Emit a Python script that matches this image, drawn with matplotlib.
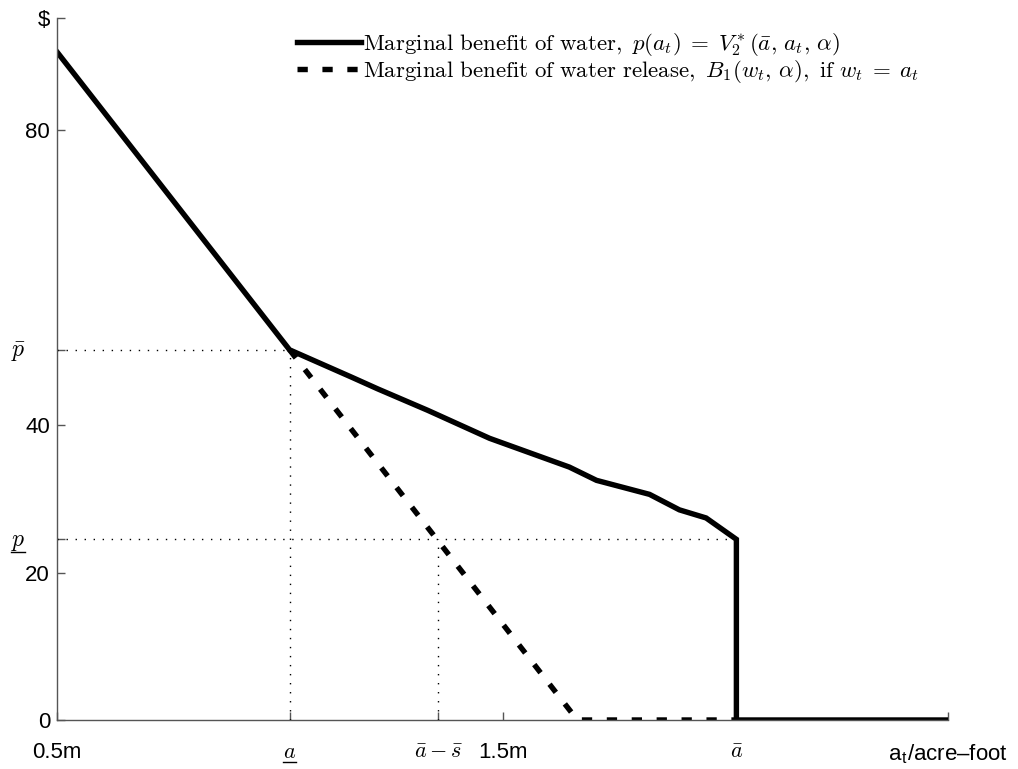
import matplotlib
matplotlib.use("Agg")
import matplotlib.pyplot as plt
from matplotlib.lines import Line2D

plt.rcParams['mathtext.fontset'] = 'cm'
plt.rcParams['font.family'] = ['Liberation Sans', 'DejaVu Sans']

# Data (x in millions of acre-feet, y in $)
benefit_x = [0.5, 1.022, 1.161, 1.220, 1.332, 1.471, 1.650, 1.711, 1.830, 1.897, 1.957, 2.025, 2.025, 2.5]
benefit_y = [90.6, 50.2, 46.5, 44.9, 42.0, 38.2, 34.3, 32.5, 30.6, 28.5, 27.4, 24.5, 0, 0]
release_x = [1.022, 1.668, 2.025]
release_y = [50.2, 0, 0]

a_low = 1.022
a_bar = 2.025
a_minus_s = 1.356
p_bar = 50.2
p_low = 24.5
y_top = 95.2

xticks = [0.5, a_low, a_minus_s, 1.5, a_bar, 2.5]
xtick_labels = ['0.5m', r'$a$', r'$\bar{a}-\bar{s}$', '1.5m', r'$\bar{a}$',
                'a$_\\mathregular{t}$/acre\u2013foot']
yticks = [0, 20, p_low, 40, p_bar, 80, y_top]
ytick_labels = ['0', '20', '', '40', '', '80', '$']
price_levels = [p_low, p_bar]
price_labels = [r'$p$', r'$\bar{p}$']
price_underlined = [True, False]

fig = plt.figure(figsize=(10.18, 7.69), dpi=100)
ax = fig.add_axes([57/1018, 1-720/769, (948-57)/1018, (720-18)/769])

dot = (0, (1, 5.5))
ax.plot([0.5, a_low], [p_bar, p_bar], color='black', lw=1, linestyle=dot)
ax.plot([a_low, a_low], [0, p_bar], color='black', lw=1, linestyle=dot)
ax.plot([0.5, a_bar], [p_low, p_low], color='black', lw=1, linestyle=dot)
ax.plot([a_minus_s, a_minus_s], [0, p_low], color='black', lw=1, linestyle=dot)

l1, = ax.plot(benefit_x, benefit_y, color='black', lw=3.9, solid_joinstyle='miter',
              label=r'$\mathrm{Marginal\ benefit\ of\ water,}\ p(a_t)\;=\;V_2^*(\bar{a},\,a_t,\,\alpha)$')
l2, = ax.plot(release_x, release_y, color='black', lw=3.9, linestyle=(0, (1.9, 2.7)),
              label=r'$\mathrm{Marginal\ benefit\ of\ water\ release,}\ B_1(w_t,\,\alpha)\mathrm{,\ if}\ w_t\;=\;a_t$')

ax.set_xlim(0.5, 2.5)
ax.set_ylim(0, y_top)
ax.set_xticks(xticks)
ax.set_xticklabels(xtick_labels)
ax.set_yticks(yticks)
ax.set_yticklabels(ytick_labels)

for s in ['top', 'right']:
    ax.spines[s].set_visible(False)
for s in ['left', 'bottom']:
    ax.spines[s].set_color('#555555')
    ax.spines[s].set_linewidth(1.0)
ax.tick_params(direction='in', length=6, width=1, color='#555555', labelsize=16, labelcolor='black')
ax.tick_params(axis='x', pad=16)
ax.tick_params(axis='y', pad=5)

ytrans = ax.get_yaxis_transform()
price_texts = []
for lv, lb in zip(price_levels, price_labels):
    t = ax.text(-32/891, lv - 0.3, lb, transform=ytrans, ha='right', va='center', fontsize=17)
    price_texts.append(t)

leg = fig.legend(handles=[l1, l2], loc='upper left', bbox_to_anchor=(297/1018, 1-31/769),
                 frameon=False, fontsize=16.5, handlelength=2.8, handletextpad=0.1,
                 borderpad=0, borderaxespad=0, labelspacing=0.0)

# underline the "a" and "p" labels
fig.canvas.draw()
r = fig.canvas.get_renderer()
W, H = fig.bbox.width, fig.bbox.height
to_underline = [ax.get_xticklabels()[1]] + [t for t, u in zip(price_texts, price_underlined) if u]
for lab in to_underline:
    bb = lab.get_window_extent(r)
    yb = bb.y0 + 1
    fig.add_artist(Line2D([bb.x0 / W, bb.x1 / W], [yb / H, yb / H],
                          transform=fig.transFigure, color='black', lw=1.0))

fig.savefig('out.png', dpi=100)
